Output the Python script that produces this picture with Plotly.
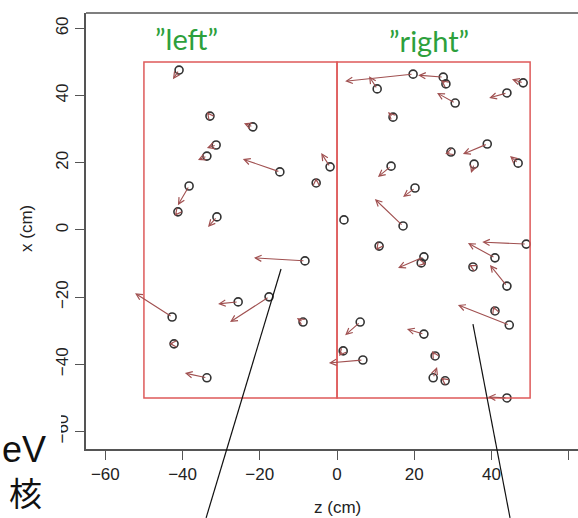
import plotly.graph_objects as go

# Hit positions (z, x in cm) and where each displacement arrow points
z_start = [-40.9, -32.9, -31.3, -33.7, -38.3, -41.2, -31.1, -21.8, -14.8, -1.8,
           -5.4, -8.3, -25.6, -17.6, -42.7, -42.2, -33.7, -8.8, 1.6, 6.7,
           19.7, 27.5, 28.2, 10.4, 14.5, 14.0, 20.2, 17.1, 1.8, 10.9,
           22.5, 21.8, 6.0, 22.5, 25.4, 24.9, 28.0, 49.0, 40.9, 44.0,
           35.2, 44.6, 40.9, 44.0, 44.0, 48.2, 30.6, 38.9, 29.5, 35.5, 46.9]
x_start = [47.6, 33.9, 25.3, 22.0, 13.1, 5.4, 3.9, 30.7, 17.3, 18.8,
           14.0, -9.2, -21.4, -19.9, -25.9, -33.9, -44.0, -27.4, -36.0, -38.7,
           46.4, 45.5, 43.5, 42.0, 33.6, 19.0, 12.5, 1.2, 3.0, -4.8,
           -8.0, -9.8, -27.4, -31.0, -37.5, -44.0, -44.9, -4.2, -8.3, -16.7,
           -11.0, -28.3, -24.1, -50.0, 40.8, 43.8, 37.8, 25.6, 23.2, 19.6, 19.9]
z_end = [-42.5, -33.7, -33.7, -36.0, -41.2, -42.0, -33.4, -24.1, -24.4, -4.1,
         -5.4, -21.5, -30.8, -27.7, -52.3, -43.5, -39.4, -10.4, 0.5, -2.1,
         2.1, 21.0, 26.9, 8.3, 13.2, 10.6, 17.1, 9.8, 1.0, 10.1,
         15.8, 23.1, 2.1, 18.1, 24.6, 25.9, 26.9, 37.6, 33.9, 39.6,
         34.2, 31.3, 40.4, 39.1, 39.4, 45.3, 25.9, 32.6, 28.0, 34.7, 44.8]
x_end = [44.9, 35.1, 24.4, 20.8, 7.4, 4.2, 0.9, 31.8, 21.1, 22.9,
         15.5, -8.3, -22.0, -27.4, -18.8, -33.9, -42.6, -26.2, -37.5, -39.6,
         44.3, 46.1, 44.6, 45.8, 35.1, 15.8, 9.8, 9.2, 3.9, -6.0,
         -11.3, -10.1, -31.3, -29.5, -36.0, -40.8, -44.0, -3.6, -3.9, -10.4,
         -10.4, -22.3, -22.6, -49.7, 39.3, 44.9, 40.8, 22.6, 22.6, 17.0, 22.0]

# Detector halves: (z0, z1, x0, x1)
regions = [(-50, 0, -50, 50), (0, 50, -50, 50)]
region_labels = ["\u201dleft\u201d", "\u201dright\u201d"]
region_label_pos = [(-39.1, 57.1), (23.7, 56.5)]

# Callout lines (z, x) running down out of the plot
callouts = [((-14.5, -11.6), (-33.9, -85.7)), ((35.2, -28.0), (44.8, -85.7))]

tick_vals = [-60, -40, -20, 0, 20, 40, 60]
z_range = [-65, 62.4]
x_range = [-65.2, 64.6]

W, H = 578, 518
ML, MR, MT, MB = 86, 0, 13, 69

axis_font = dict(family="Liberation Sans, Arial, sans-serif", size=17, color="#222")
frame_col = "#555"
arrow_col = "rgb(160,80,80)"


def to_paper(z, x):
    px = (z - z_range[0]) / (z_range[1] - z_range[0])
    py = (x - x_range[0]) / (x_range[1] - x_range[0])
    return px, py


def pix_to_paper(px, py):
    return (px - ML) / (W - ML - MR), (H - MB - py) / (H - MT - MB)


fig = go.Figure()

fig.add_trace(go.Scatter(
    x=z_start, y=x_start, mode="markers",
    marker=dict(symbol="circle-open", size=8, color="#333", line=dict(width=1.6)),
    hoverinfo="skip", showlegend=False,
))

shapes = []
for (a0, a1, b0, b1) in regions:
    shapes.append(dict(type="rect", xref="x", yref="y", x0=a0, x1=a1, y0=b0, y1=b1,
                       line=dict(color="rgb(222,90,90)", width=1.5), layer="above"))

# top frame line (the right side of the frame falls outside the page)
shapes.append(dict(type="line", xref="paper", yref="paper", x0=0, x1=1, y0=1, y1=1,
                   line=dict(color=frame_col, width=1.5)))

for (p0, p1) in callouts:
    ax0, ay0 = to_paper(*p0)
    ax1, ay1 = to_paper(*p1)
    shapes.append(dict(type="line", xref="paper", yref="paper", x0=ax0, y0=ay0, x1=ax1, y1=ay1,
                       line=dict(color="#111", width=1.2), layer="above"))

# white slide text box in the lower-left corner
bx0, by0 = pix_to_paper(0, 518)
bx1, by1 = pix_to_paper(61, 405)
shapes.append(dict(type="rect", xref="paper", yref="paper", x0=bx0, x1=bx1, y0=by0, y1=by1,
                   fillcolor="white", line=dict(width=0), layer="above"))

annotations = []
for zs, xs, ze, xe in zip(z_start, x_start, z_end, x_end):
    annotations.append(dict(
        x=ze, y=xe, ax=zs, ay=xs, xref="x", yref="y", axref="x", ayref="y",
        text="", showarrow=True, arrowhead=5, arrowsize=1.1, arrowwidth=1.1,
        arrowcolor=arrow_col, font=dict(size=1),
    ))

for lab, (lz, lx) in zip(region_labels, region_label_pos):
    annotations.append(dict(x=lz, y=lx, xref="x", yref="y", text=lab, showarrow=False,
                            font=dict(family="Lato, Open Sans, sans-serif", size=29,
                                      color="rgb(45,160,60)")))

tx, ty = pix_to_paper(337, 508)
annotations.append(dict(x=tx, y=ty, xref="paper", yref="paper", text="z (cm)",
                        showarrow=False, font=axis_font, xanchor="center", yanchor="middle"))
tx, ty = pix_to_paper(26, 229)
annotations.append(dict(x=tx, y=ty, xref="paper", yref="paper", text="x (cm)",
                        showarrow=False, font=axis_font, textangle=-90,
                        xanchor="center", yanchor="middle"))

tx, ty = pix_to_paper(0, 449)
annotations.append(dict(x=tx, y=ty, xref="paper", yref="paper", text="eV", showarrow=False,
                        font=dict(family="Liberation Sans, Arial, sans-serif", size=36, color="#111"),
                        xanchor="left", yanchor="middle"))
tx, ty = pix_to_paper(25, 518)
annotations.append(dict(x=tx, y=ty, xref="paper", yref="paper", text="核", showarrow=False,
                        font=dict(family="Noto Sans CJK JP", size=33, color="#111"),
                        xanchor="center", yanchor="bottom"))

fig.update_layout(
    template="none",
    width=W, height=H,
    margin=dict(l=ML, r=MR, t=MT, b=MB, pad=0),
    paper_bgcolor="white", plot_bgcolor="white",
    showlegend=False,
    shapes=shapes,
    annotations=annotations,
    xaxis=dict(range=z_range, tickvals=tick_vals, ticktext=[str(v).replace("-", "\u2212") for v in tick_vals],
               showgrid=False, zeroline=False, showline=True, linecolor=frame_col, linewidth=1.5,
               ticks="outside", ticklen=9, tickwidth=1.3, tickcolor=frame_col,
               tickfont=axis_font, automargin=False, fixedrange=True),
    yaxis=dict(range=x_range, tickvals=tick_vals, ticktext=[str(v).replace("-", "\u2212") for v in tick_vals],
               showgrid=False, zeroline=False, showline=True, linecolor=frame_col, linewidth=1.5,
               ticks="outside", ticklen=9, tickwidth=1.3, tickcolor=frame_col,
               tickfont=axis_font, tickangle=-90, automargin=False, fixedrange=True),
)

fig.write_html("out.html")
